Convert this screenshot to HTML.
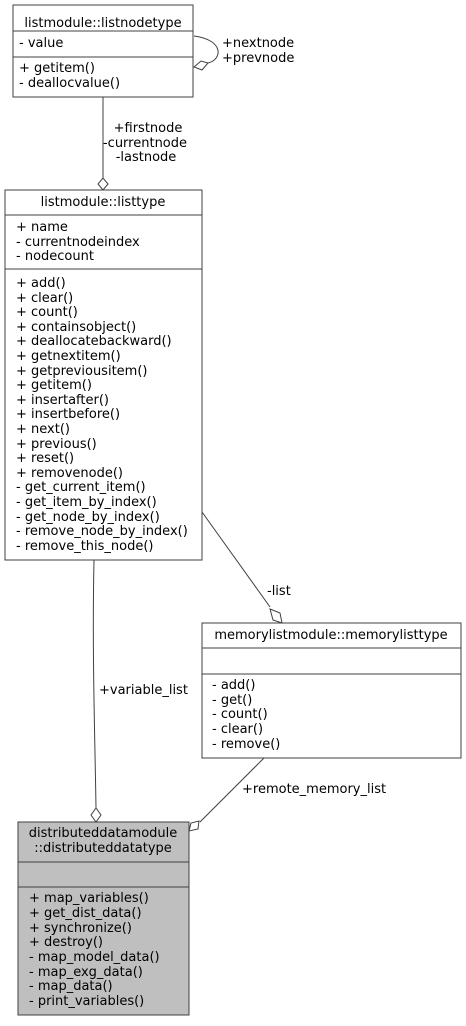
<!DOCTYPE html>
<html><head><meta charset="utf-8"><style>
html,body{margin:0;padding:0;background:#fff;}
text{font-family:"DejaVu Sans","Liberation Sans",sans-serif;font-size:13px;fill:#000;}
</style></head><body>
<svg width="466" height="1021" viewBox="0 0 466 1021" xmlns="http://www.w3.org/2000/svg">
<g stroke="#404040" stroke-width="1" fill="none">
<rect x="13" y="5" width="180" height="92" fill="#fff"/>
<line x1="13" y1="31" x2="193" y2="31"/><line x1="13" y1="57" x2="193" y2="57"/>
<rect x="5" y="190" width="197" height="370" fill="#fff"/>
<line x1="5" y1="215" x2="202" y2="215"/><line x1="5" y1="269" x2="202" y2="269"/>
<rect x="202" y="623" width="259" height="135" fill="#fff"/>
<line x1="202" y1="648" x2="461" y2="648"/><line x1="202" y1="674" x2="461" y2="674"/>
<rect x="18" y="822" width="171" height="193" fill="#bfbfbf"/>
<line x1="18" y1="862" x2="189" y2="862"/><line x1="18" y1="887" x2="189" y2="887"/>
<path d="M103 97 L103 178"/>
<path d="M103 190 L98 184 L103 178 L108 184 Z" fill="#fff"/>
<path d="M194 36 C225 40 222 60 208 63"/>
<path d="M194 67 L201 61 L208 63 L202 70 Z" fill="#fff"/>
<path d="M94 560 C92 650 95 740 96 808"/>
<path d="M96 822 L91 815 L96 808 L101 815 Z" fill="#fff"/>
<path d="M202 512 L270 607"/>
<path d="M282 623 L273 620 L270 609 L280 613 Z" fill="#fff"/>
<path d="M264 758 L200 822"/>
<path d="M189 831 L191 823 L199 821 L198 829 Z" fill="#fff"/>
</g>
<text x="103" y="27" text-anchor="middle">listmodule::listnodetype</text>
<text x="19" y="47">- value</text>
<text x="19" y="72">+ getitem()</text>
<text x="19" y="87">- deallocvalue()</text>
<text x="222" y="47">+nextnode</text>
<text x="222" y="62">+prevnode</text>
<text x="148" y="132" text-anchor="middle">+firstnode</text>
<text x="145" y="147" text-anchor="middle">-currentnode</text>
<text x="146" y="161" text-anchor="middle">-lastnode</text>
<text x="103" y="206" text-anchor="middle">listmodule::listtype</text>
<text x="16" y="231">+ name</text>
<text x="16" y="246">- currentnodeindex</text>
<text x="16" y="260">- nodecount</text>
<text x="16" y="287">+ add()</text>
<text x="16" y="302">+ clear()</text>
<text x="16" y="316">+ count()</text>
<text x="16" y="331">+ containsobject()</text>
<text x="16" y="345">+ deallocatebackward()</text>
<text x="16" y="360">+ getnextitem()</text>
<text x="16" y="375">+ getpreviousitem()</text>
<text x="16" y="389">+ getitem()</text>
<text x="16" y="404">+ insertafter()</text>
<text x="16" y="418">+ insertbefore()</text>
<text x="16" y="433">+ next()</text>
<text x="16" y="448">+ previous()</text>
<text x="16" y="462">+ reset()</text>
<text x="16" y="477">+ removenode()</text>
<text x="16" y="491">- get_current_item()</text>
<text x="16" y="506">- get_item_by_index()</text>
<text x="16" y="521">- get_node_by_index()</text>
<text x="16" y="535">- remove_node_by_index()</text>
<text x="16" y="550">- remove_this_node()</text>
<text x="267" y="595">-list</text>
<text x="331" y="639" text-anchor="middle">memorylistmodule::memorylisttype</text>
<text x="212" y="689">- add()</text>
<text x="212" y="704">- get()</text>
<text x="212" y="718">- count()</text>
<text x="212" y="733">- clear()</text>
<text x="212" y="748">- remove()</text>
<text x="99" y="694">+variable_list</text>
<text x="242" y="793">+remote_memory_list</text>
<text x="103" y="837" text-anchor="middle">distributeddatamodule</text>
<text x="103" y="852" text-anchor="middle">::distributeddatatype</text>
<text x="29" y="902">+ map_variables()</text>
<text x="29" y="917">+ get_dist_data()</text>
<text x="29" y="932">+ synchronize()</text>
<text x="29" y="946">+ destroy()</text>
<text x="29" y="961">- map_model_data()</text>
<text x="29" y="976">- map_exg_data()</text>
<text x="29" y="990">- map_data()</text>
<text x="29" y="1005">- print_variables()</text>
</svg>
</body></html>
